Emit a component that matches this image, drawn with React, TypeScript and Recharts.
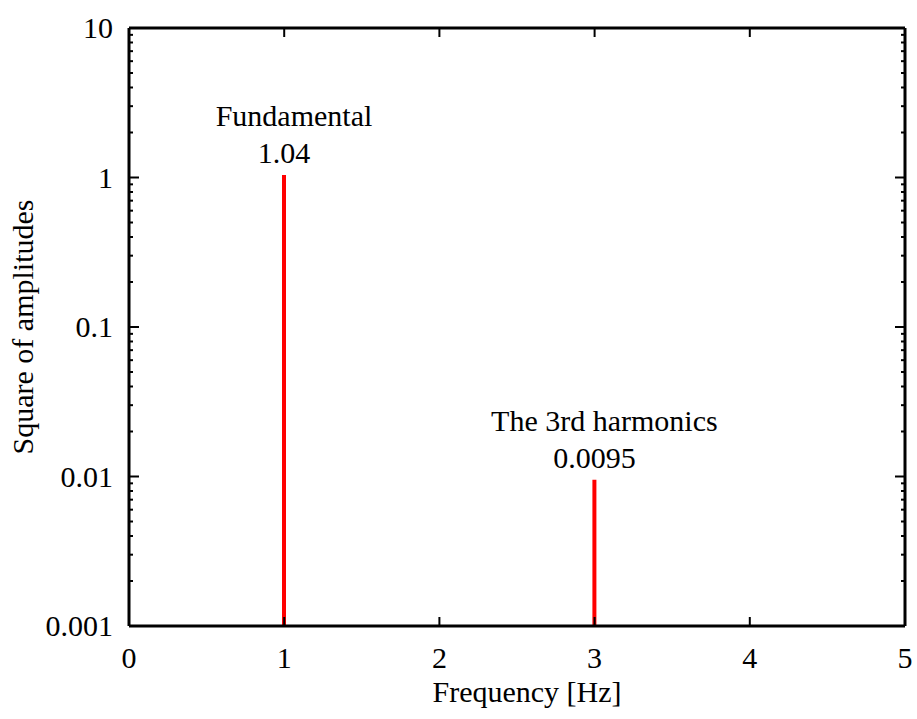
import { Bar, ComposedChart, XAxis, YAxis } from "recharts";

// spectrum peaks
const frequencies = [1, 3];
const powers = [1.04, 0.0095];
const peakNames = ["Fundamental", "The 3rd harmonics"];

const xTicks = [0, 1, 2, 3, 4, 5];
const majorTicks = [0.001, 0.01, 0.1, 1, 10];
const minorMultipliers = [2, 3, 4, 5, 6, 7, 8, 9];

const yTicks = majorTicks.flatMap((d, i) =>
  i < majorTicks.length - 1
    ? [d, ...minorMultipliers.map((m) => +(m * d).toPrecision(3))]
    : [d]
);

const data = frequencies.map((f, i) => ({ f, p: powers[i] }));

const FONT = "'Liberation Serif', 'Times New Roman', serif";
const FS = 30;

const isMajor = (v: number) => majorTicks.includes(v);

function LeftTick({ x, y, payload }: any) {
  const major = isMajor(payload.value);
  return (
    <g>
      <line x1={x} x2={x + (major ? 10 : 4)} y1={y} y2={y} stroke="#000" strokeWidth={2} />
      {major && (
        <text x={x - 16} y={y + 10} textAnchor="end" fontSize={FS} fontFamily={FONT} fill="#000">
          {String(payload.value)}
        </text>
      )}
    </g>
  );
}

function RightTick({ x, y, payload }: any) {
  const major = isMajor(payload.value);
  return <line x1={x} x2={x - (major ? 10 : 4)} y1={y} y2={y} stroke="#000" strokeWidth={2} />;
}

function BottomTick({ x, y, payload }: any) {
  return (
    <g>
      <line x1={x} x2={x} y1={y} y2={y - 9} stroke="#000" strokeWidth={2} />
      <text x={x} y={y + 42} textAnchor="middle" fontSize={FS} fontFamily={FONT} fill="#000">
        {String(payload.value)}
      </text>
    </g>
  );
}

function TopTick({ x, y }: any) {
  return <line x1={x} x2={x} y1={y} y2={y + 9} stroke="#000" strokeWidth={2} />;
}

function PeakLabel({ x, y, width, index }: any) {
  const cx = x + width / 2;
  return (
    <g fontSize={FS} fontFamily={FONT} fill="#000">
      <text x={cx + 10} y={y - 49} textAnchor="middle">
        {peakNames[index]}
      </text>
      <text x={cx} y={y - 12} textAnchor="middle">
        {String(powers[index])}
      </text>
    </g>
  );
}

const axisLine = { stroke: "#000", strokeWidth: 3 };

export default function App() {
  return (
    <div style={{ position: "absolute", left: 0, top: 0, width: 917, height: 719, background: "#fff" }}>
      <ComposedChart
        width={917}
        height={719}
        data={data}
        margin={{ top: 0, right: 0, bottom: 0, left: 0 }}
        style={{ overflow: "visible" }}
      >
        <XAxis
          xAxisId="bottom"
          orientation="bottom"
          type="number"
          dataKey="f"
          domain={[0, 5]}
          ticks={xTicks}
          interval={0}
          height={93}
          tickSize={0}
          tickMargin={0}
          tickLine={false}
          axisLine={axisLine}
          tick={<BottomTick />}
          label={{
            content: ({ viewBox }: any) => (
              <text
                x={viewBox.x + viewBox.width / 2 + 10}
                y={viewBox.y + 76}
                textAnchor="middle"
                fontSize={FS}
                fontFamily={FONT}
                fill="#000"
              >
                Frequency [Hz]
              </text>
            ),
          }}
        />
        <XAxis
          xAxisId="top"
          orientation="top"
          type="number"
          dataKey="f"
          domain={[0, 5]}
          ticks={xTicks}
          interval={0}
          height={28}
          tickSize={0}
          tickMargin={0}
          tickLine={false}
          axisLine={axisLine}
          tick={<TopTick />}
        />
        <YAxis
          yAxisId="left"
          orientation="left"
          type="number"
          scale="log"
          dataKey="p"
          domain={[0.001, 10]}
          allowDataOverflow
          ticks={yTicks}
          interval={0}
          width={129}
          tickSize={0}
          tickMargin={0}
          tickLine={false}
          axisLine={axisLine}
          tick={<LeftTick />}
          label={{
            content: ({ viewBox }: any) => {
              const cy = viewBox.y + viewBox.height / 2;
              return (
                <text
                  x={33}
                  y={cy}
                  transform={`rotate(-90, 33, ${cy})`}
                  textAnchor="middle"
                  fontSize={FS}
                  fontFamily={FONT}
                  fill="#000"
                >
                  Square of amplitudes
                </text>
              );
            },
          }}
        />
        <YAxis
          yAxisId="right"
          orientation="right"
          type="number"
          scale="log"
          dataKey="p"
          domain={[0.001, 10]}
          allowDataOverflow
          ticks={yTicks}
          interval={0}
          width={12}
          tickSize={0}
          tickMargin={0}
          tickLine={false}
          axisLine={axisLine}
          tick={<RightTick />}
        />
        <Bar
          xAxisId="bottom"
          yAxisId="left"
          dataKey="p"
          fill="#ff0000"
          barSize={4}
          isAnimationActive={false}
          label={<PeakLabel />}
        />
      </ComposedChart>
    </div>
  );
}
